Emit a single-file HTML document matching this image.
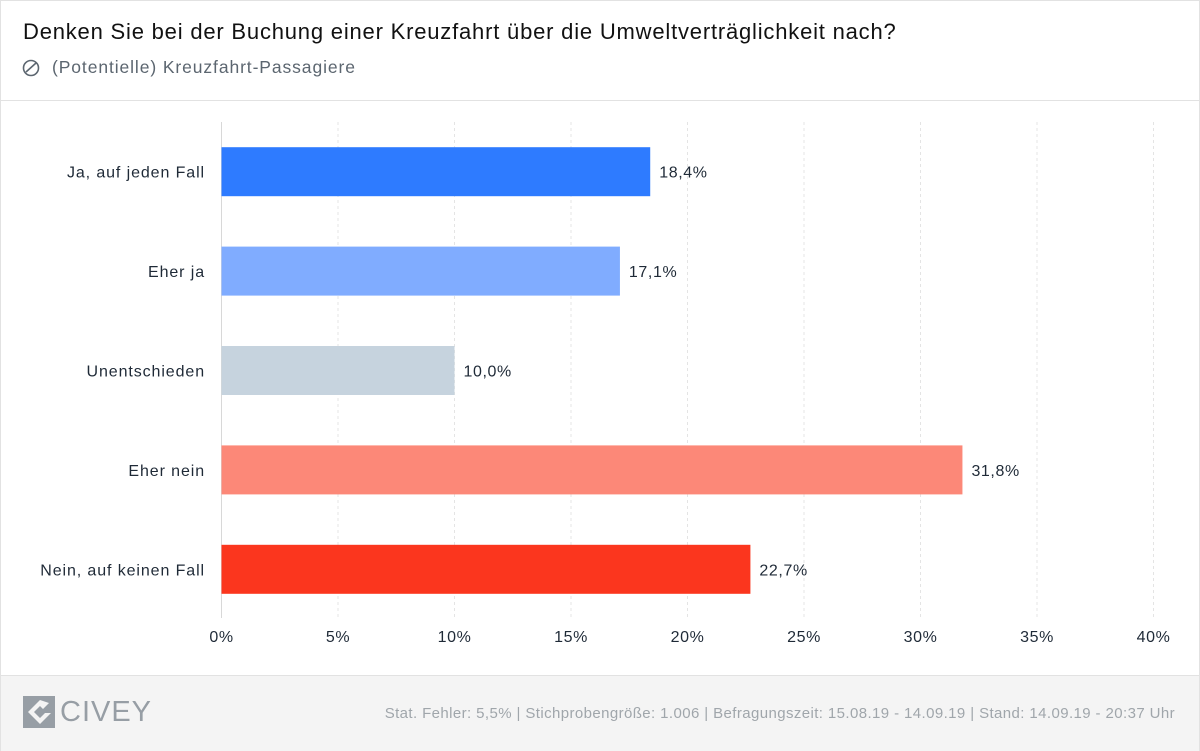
<!DOCTYPE html>
<html><head><meta charset="utf-8"><style>
body{margin:0;width:1200px;height:751px;background:#fff;font-family:"Liberation Sans",sans-serif;overflow:hidden;position:relative}
.frame{position:absolute;left:0;top:0;width:1198px;height:749px;border:1px solid #e2e2e2}
.title{position:absolute;left:23px;top:19px;font-size:22px;color:#111;letter-spacing:0.8px}
.sub{position:absolute;left:52px;top:57px;font-size:17.5px;color:#5c6670;letter-spacing:0.9px}
.hdr-line{position:absolute;left:1px;top:100px;width:1198px;height:1px;background:#e2e2e2}
.footer{position:absolute;left:1px;top:675px;width:1198px;height:75px;background:#f4f4f4;border-top:1px solid #e2e2e2}
.meta{position:absolute;right:24px;top:29px;font-size:15px;color:#a0a6ab;letter-spacing:0.4px}
.logo{position:absolute;left:59px;top:20px;font-size:29px;color:#979ea5;letter-spacing:1px}
</style></head><body>
<div class="frame"></div>
<div class="title">Denken Sie bei der Buchung einer Kreuzfahrt über die Umweltverträglichkeit nach?</div>
<svg style="position:absolute;left:22px;top:58px" width="20" height="20"><circle cx="9" cy="10" r="7.5" fill="none" stroke="#5c6670" stroke-width="1.6"/><path d="M4 14 L14 5" stroke="#5c6670" stroke-width="1.6"/></svg>
<div class="sub">(Potentielle) Kreuzfahrt-Passagiere</div>
<div class="hdr-line"></div>
<svg id="chart" width="1200" height="751" style="position:absolute;left:0;top:0"></svg>
<div class="footer">
<svg style="position:absolute;left:22px;top:20px" width="32" height="32"><rect width="32" height="32" fill="#979ea5"/><path d="M17 4 L5 16 L17 28 L28 17 L22 17 L17 22 L11 16 L17 10 L20 13 L26 7 Z" fill="#f4f4f4"/></svg>
<div class="logo">CIVEY</div>
<div class="meta">Stat. Fehler: 5,5% | Stichprobengröße: 1.006 | Befragungszeit: 15.08.19 - 14.09.19 | Stand: 14.09.19 - 20:37 Uhr</div>
</div>
<script>
const categories=["Ja, auf jeden Fall","Eher ja","Unentschieden","Eher nein","Nein, auf keinen Fall"];
const values=[18.4,17.1,10.0,31.8,22.7];
const labels=["18,4%","17,1%","10,0%","31,8%","22,7%"];
const colors=["#2e7bff","#80acff","#c6d3de","#fc8878","#fb361e"];
const ticks=[0,5,10,15,20,25,30,35,40];
const x0=221.5,pxPer=23.3,yTop=122,yBot=618,bandStart=122,band=99.4,barH=49;
const X=v=>x0+v*pxPer;
const svg=document.getElementById('chart');const NS='http://www.w3.org/2000/svg';
function mk(t,a){const e=document.createElementNS(NS,t);for(const k in a)e.setAttribute(k,a[k]);svg.appendChild(e);return e;}
ticks.forEach((t,i)=>{
 const g=mk('line',{x1:X(t),x2:X(t),y1:yTop,y2:yBot,stroke:i==0?'#d8d8d8':'#e4e4e4','stroke-dasharray':i==0?'':'3,3'});
 
 
 const tx=mk('text',{x:X(t),y:642,'text-anchor':'middle','font-size':16,fill:'#1f2a37','letter-spacing':0.6});tx.textContent=t+'%';
 
 
});
categories.forEach((c,i)=>{
 const cy=bandStart+band*(i+0.5);
 const r=mk('rect',{x:X(0),y:cy-barH/2,width:X(values[i])-X(0),height:barH,fill:colors[i]});
 
 
 const l=mk('text',{x:205,y:cy+6,'text-anchor':'end','font-size':16,fill:'#1f2a37','letter-spacing':0.9});l.textContent=c;
 
 
 const v=mk('text',{x:X(values[i])+9,y:cy+6,'font-size':16,fill:'#1f2a37','letter-spacing':0.6});v.textContent=labels[i];
 
 
});
</script>
</body></html>
